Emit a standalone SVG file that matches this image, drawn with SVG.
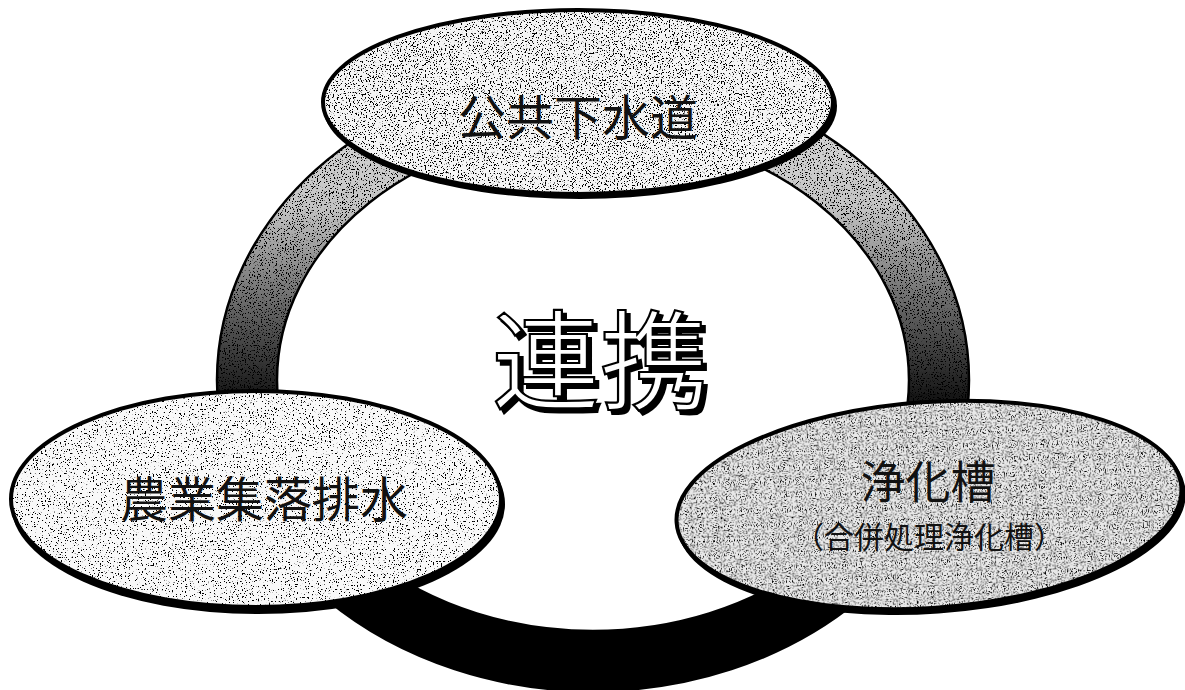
<svg xmlns="http://www.w3.org/2000/svg" width="1185" height="690" viewBox="0 0 1185 690">
  <defs>
    <linearGradient id="ringGrad" gradientUnits="userSpaceOnUse" x1="0" y1="70" x2="0" y2="690">
      <stop offset="0" stop-color="#e0e0e0"/>
      <stop offset="0.22" stop-color="#c4c4c4"/>
      <stop offset="0.42" stop-color="#505050"/>
      <stop offset="0.55" stop-color="#0a0a0a"/>
      <stop offset="1" stop-color="#000"/>
    </linearGradient>
    <filter id="speckleLight" x="0" y="0" width="100%" height="100%">
      <feTurbulence type="fractalNoise" baseFrequency="0.75" numOctaves="2" seed="4" result="n"/>
      <feColorMatrix in="n" type="matrix" values="0 0 0 0 0  0 0 0 0 0  0 0 0 0 0  1 0 0 0 0" result="a"/>
      <feComponentTransfer in="a" result="dots"><feFuncA type="linear" slope="20" intercept="-12.6"/></feComponentTransfer>
      <feComposite in="dots" in2="SourceAlpha" operator="in" result="d2"/>
      <feMerge><feMergeNode in="SourceGraphic"/><feMergeNode in="d2"/></feMerge>
    </filter>
    <filter id="speckleMid" x="0" y="0" width="100%" height="100%">
      <feTurbulence type="fractalNoise" baseFrequency="0.75" numOctaves="2" seed="9" result="n"/>
      <feColorMatrix in="n" type="matrix" values="0 0 0 0 0  0 0 0 0 0  0 0 0 0 0  1 0 0 0 0" result="a"/>
      <feComponentTransfer in="a" result="dots"><feFuncA type="linear" slope="20" intercept="-11.9"/></feComponentTransfer>
      <feComposite in="dots" in2="SourceAlpha" operator="in" result="d2"/>
      <feMerge><feMergeNode in="SourceGraphic"/><feMergeNode in="d2"/></feMerge>
    </filter>
    <filter id="speckleDark" x="0" y="0" width="100%" height="100%">
      <feTurbulence type="fractalNoise" baseFrequency="0.8" numOctaves="2" seed="17" result="n"/>
      <feColorMatrix in="n" type="matrix" values="0 0 0 0 0  0 0 0 0 0  0 0 0 0 0  1 0 0 0 0" result="a"/>
      <feComponentTransfer in="a" result="dots"><feFuncA type="linear" slope="20" intercept="-10.8"/></feComponentTransfer>
      <feComposite in="dots" in2="SourceAlpha" operator="in" result="d2"/>
      <feMerge><feMergeNode in="SourceGraphic"/><feMergeNode in="d2"/></feMerge>
    </filter>
    <filter id="engrave" x="-5%" y="-5%" width="115%" height="115%">
      <feOffset in="SourceAlpha" dx="4" dy="4" result="sh"/>
      <feMerge><feMergeNode in="sh"/><feMergeNode in="SourceGraphic"/></feMerge>
    </filter>
  </defs>
  <style>
    .lbl { font-family: "Noto Sans CJK JP", "Noto Sans CJK SC", sans-serif; fill: #111; text-anchor: middle; }
    .edge { fill: none; stroke: #000; stroke-width: 4; }
    .shadow { fill: #000; }
    .big { font-family: "Noto Sans CJK JP", "Noto Sans CJK SC", sans-serif; font-size: 108px; text-anchor: middle; fill: #fff; stroke: #000; stroke-width: 2.2; }
  </style>
  <rect width="1185" height="690" fill="#fff"/>

  <g id="connectors">
    <path d="M217 380 a376 311 0 1 0 752 0 a376 311 0 1 0 -752 0 Z M277 380 a316 251 0 1 0 632 0 a316 251 0 1 0 -632 0 Z" fill="url(#ringGrad)" fill-rule="evenodd" filter="url(#speckleMid)"/>
    <ellipse cx="593" cy="380" rx="376" ry="311" fill="none" stroke="#000" stroke-width="2.5"/>
    <ellipse cx="593" cy="380" rx="316" ry="251" fill="none" stroke="#000" stroke-width="2.5"/>
  </g>

  <g id="node-top">
    <ellipse class="shadow" cx="580" cy="106" rx="257" ry="93"/>
    <ellipse cx="578" cy="102" rx="255" ry="92" fill="#f4f4f4" filter="url(#speckleMid)"/>
    <ellipse class="edge" cx="578" cy="102" rx="255" ry="92"/>
    <text class="lbl" x="578" y="135" font-size="48">公共下水道</text>
  </g>

  <g id="node-left">
    <ellipse class="shadow" cx="258" cy="504" rx="247" ry="110"/>
    <ellipse cx="256" cy="499" rx="245" ry="108" fill="#f8f8f8" filter="url(#speckleLight)"/>
    <ellipse class="edge" cx="256" cy="499" rx="245" ry="108"/>
    <text class="lbl" x="264" y="517" font-size="48">農業集落排水</text>
  </g>

  <g id="node-right">
    <g transform="rotate(-4 929 505)">
      <ellipse class="shadow" cx="931" cy="509" rx="255" ry="105"/>
      <ellipse cx="929" cy="505" rx="253" ry="103" fill="#e8e8e8" filter="url(#speckleDark)"/>
      <ellipse class="edge" cx="929" cy="505" rx="253" ry="103"/>
    </g>
    <text class="lbl" x="928" y="499" font-size="45">浄化槽</text>
    <text class="lbl" x="929" y="548" font-size="30">（合併処理浄化槽）</text>
  </g>

  <g id="center">
    <text class="big" x="600" y="401" filter="url(#engrave)">連携</text>
  </g>
</svg>
